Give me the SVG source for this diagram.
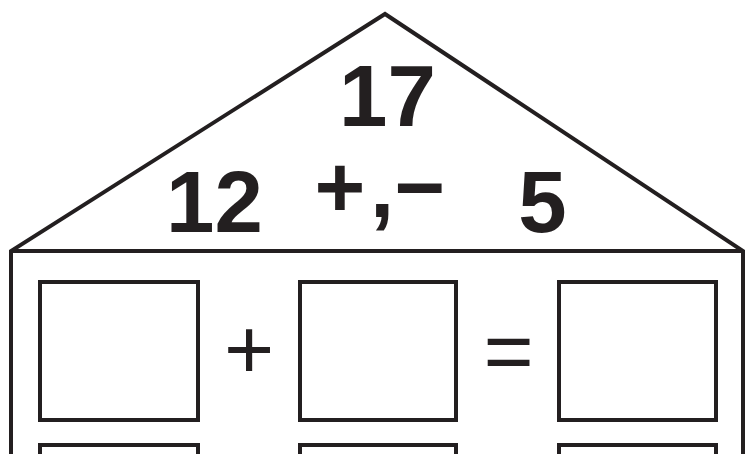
<svg xmlns="http://www.w3.org/2000/svg" width="745" height="454" viewBox="0 0 745 454">
<style>
.ln{fill:none;stroke:#231f20;stroke-width:4;stroke-linejoin:miter}
.bx{fill:#fff;stroke:#231f20;stroke-width:4}
.big{font-family:"Liberation Sans",Arial,sans-serif;font-weight:bold;font-size:87px;fill:#231f20;text-anchor:middle}
.op{font-family:"Liberation Sans",Arial,sans-serif;font-size:86px;fill:#231f20;text-anchor:middle}
</style>
<rect width="745" height="454" fill="#fff"/>
<g id="house">
<polyline class="ln" points="11,454 11,251 385,14 743,251 743,454"/>
<line class="ln" x1="11" y1="251" x2="743" y2="251"/>
</g>
<g id="roof-text">
<text class="big" x="387.5" y="126">17</text>
<text class="big" x="214.5" y="232">12</text>
<text class="big" y="217"><tspan x="340">+</tspan><tspan x="382">,</tspan><tspan x="420">−</tspan></text>
<text class="big" x="542.5" y="232">5</text>
</g>
<g id="row1">
<rect class="bx" x="40" y="282" width="158" height="138"/>
<rect class="bx" x="300" y="282" width="156" height="138"/>
<rect class="bx" x="559" y="282" width="157" height="138"/>
<text class="op" x="249" y="379">+</text>
<text class="op" x="508.5" y="380">=</text>
</g>
<g id="row2">
<rect class="bx" x="40" y="445" width="158" height="138"/>
<rect class="bx" x="300" y="445" width="156" height="138"/>
<rect class="bx" x="559" y="445" width="157" height="138"/>
</g>
</svg>
